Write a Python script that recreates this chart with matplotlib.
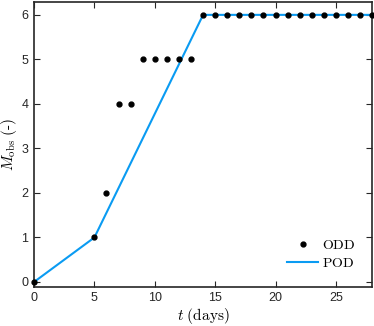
import matplotlib
matplotlib.use("Agg")
import matplotlib.pyplot as plt

plt.rcParams["mathtext.fontset"] = "cm"
plt.rcParams["font.family"] = ["Liberation Sans", "DejaVu Sans"]

odd_t = [0, 5, 6, 7, 8, 9, 10, 11, 12, 13, 14, 15, 16, 17, 18, 19, 20,
         21, 22, 23, 24, 25, 26, 27, 28]
odd_m = [0, 1, 2, 4, 4, 5, 5, 5, 5, 5, 6, 6, 6, 6, 6, 6, 6,
         6, 6, 6, 6, 6, 6, 6, 6]
pod_t = [0, 5, 14, 28]
pod_m = [0, 1, 6, 6]

fig = plt.figure(figsize=(3.74, 3.26), dpi=100)
ax = fig.add_axes([0.091, 0.12, 0.904, 0.874])

ax.plot(odd_t, odd_m, "o", color="black", markersize=3.5, label=r"$\mathrm{ODD}$",
        zorder=3, clip_on=False)
ax.plot(pod_t, pod_m, "-", color="#0a9bf2", linewidth=1.5, label=r"$\mathrm{POD}$", zorder=2)

ax.set_xlim(0, 28)
ax.set_ylim(-0.11, 6.29)
ax.set_xticks([0, 5, 10, 15, 20, 25])
ax.set_yticks([0, 1, 2, 3, 4, 5, 6])
ax.tick_params(direction="in", top=True, right=True, length=4, width=0.8,
               labelsize=9, colors="#262626", pad=4)
for s in ax.spines.values():
    s.set_linewidth(1.2)
    s.set_color("#262626")

ax.set_xlabel(r"$t\ \mathrm{(days)}$", fontsize=11, labelpad=1)
ax.set_ylabel(r"$M_{\mathrm{obs}}\ \mathrm{(\text{-})}$", fontsize=11, labelpad=2)

ax.legend(loc="lower right", frameon=False, fontsize=10, handlelength=2.2,
          handletextpad=0.3, labelspacing=0.3, borderaxespad=0.8)

fig.savefig("out.png", dpi=100)
